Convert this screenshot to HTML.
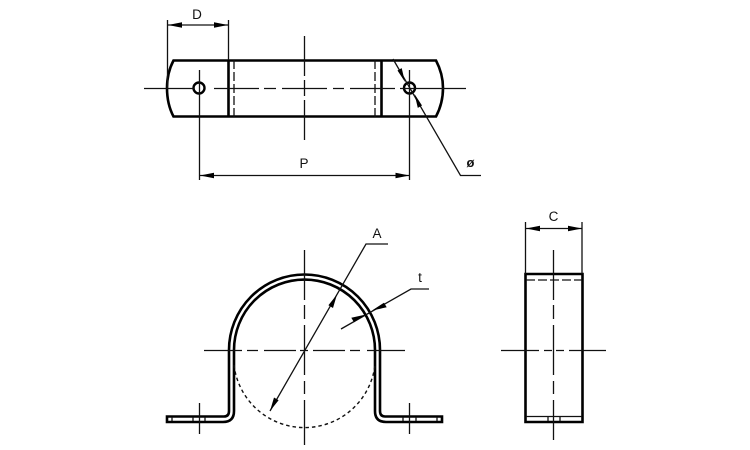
<!DOCTYPE html>
<html>
<head>
<meta charset="utf-8">
<style>
html,body{margin:0;padding:0;background:#fff;width:750px;height:450px;overflow:hidden}
svg{display:block}
text{font-family:"Liberation Sans",sans-serif;font-size:13.500px;fill:#111;text-anchor:middle}
.k{stroke:#000;stroke-width:2.600;fill:none}
.m{stroke:#000;stroke-width:2.400;fill:none}
.t{stroke:#111;stroke-width:1.300;fill:none}
.d{stroke:#111;stroke-width:1.400;fill:none;stroke-dasharray:3.500 3}
.a{fill:#000;stroke:none}
</style>
</head>
<body>
<svg width="750" height="450" viewBox="0 0 750 450" xmlns="http://www.w3.org/2000/svg">
<rect width="750" height="450" fill="#fff"/>

<!-- top view outline -->
<path class="k" d="M173.500 60.500H436C441 70 443 79 443 88C443 97 441 107 436 116.500H173.500C168.500 107 167 97 167 88C167 79 168.500 70 173.500 60.500Z"/>
<path class="k" d="M228.500 60V117M381.500 60V117"/>
<path class="t" stroke-dasharray="9 3" d="M234 60V117M375 60V117"/>
<circle class="m" cx="199" cy="88" r="5.500"/>
<circle class="m" cx="409.500" cy="88" r="5.500"/>
<!-- top center lines -->
<path class="t" d="M144 88.500H194M214 88.500H259M264 88.500H276M282 88.500H327M333 88.500H344M350 88.500H395M400 88.500H466"/>
<path class="t" d="M304.500 36V76M304.500 80V96M304.500 100V140"/>
<!-- D -->
<path class="t" d="M167.500 20V88M228.500 20V60M168 25H228"/>
<path class="a" d="M168 25l14-2.800v5.600zM228 25l-14-2.800v5.600z"/>
<text x="197" y="19">D</text>
<!-- P -->
<path class="t" d="M199.500 70V180M409.500 70V180M200 175.500H409"/>
<path class="a" d="M200 175.500l14-2.800v5.600zM409.500 175.500l-14-2.800v5.600z"/>
<text x="304" y="168">P</text>
<!-- phi leader -->
<path class="t" d="M393 59L460.500 175.500H481"/>
<path class="a" d="M405 82l-7.500-11.500 4.200-2.400zM414.500 94l7.500 11.500-4.200 2.400z"/>
<text x="470.500" y="167" style="font-size:13px;font-weight:bold">ø</text>

<!-- front view -->
<path class="k" d="M167 416.500H224Q229 416.500 229 411V350A75.500 75.500 0 0 1 380 350V411Q380 416.500 385 416.500H442V422H386Q375 422 375 411V350A70.500 70.500 0 0 0 234 350V411Q234 422 223 422H167Z"/>
<path class="t" d="M172 417V421M193 417V421M205 417V421M403 417V421M416 417V421M437 417V421"/>
<path class="d" d="M234 365A71 71 0 0 0 375 365"/>
<!-- front center lines -->
<path class="t" d="M204 350.500H242M247 350.500H258M264 350.500H296M300 350.500H308M313 350.500H345M350 350.500H360M367 350.500H405"/>
<path class="t" d="M304.500 250V300M304.500 305V319M304.500 325V375M304.500 381V394M304.500 400V445"/>
<path class="t" d="M199.500 403V434M409.500 403V434"/>
<!-- A -->
<path class="t" d="M270 411L366 244H388"/>
<path class="a" d="M270 411l4-13.500 4.600 2.700zM337 294.500l-4 13.500-4.600-2.700z"/>
<text x="377" y="238">A</text>
<!-- t -->
<path class="t" d="M341 329L411 289H429"/>
<path class="a" d="M366 314.500l-12 7.800-2.700-4.600zM372 310.500l12-7.800 2.700 4.600z"/>
<text x="420" y="282">t</text>

<!-- side view -->
<path class="k" d="M525.500 274H582.500V422H525.500Z"/>
<path class="t" stroke-dasharray="9 3" d="M526 280H582"/>
<path class="t" d="M526 416.500H582M548 417V421M560 417V421"/>
<path class="t" d="M501 350.500H539M544 350.500H552M556 350.500H564M569 350.500H606"/>
<path class="t" d="M553.500 250V300M553.500 305V319M553.500 325V375M553.500 381V394M553.500 400V440"/>
<!-- C -->
<path class="t" d="M525.500 222V274M582 222V274M526 228.500H582"/>
<path class="a" d="M526 228.500l14-2.800v5.600zM582 228.500l-14-2.800v5.600z"/>
<text x="553.500" y="221">C</text>
</svg>
</body>
</html>
